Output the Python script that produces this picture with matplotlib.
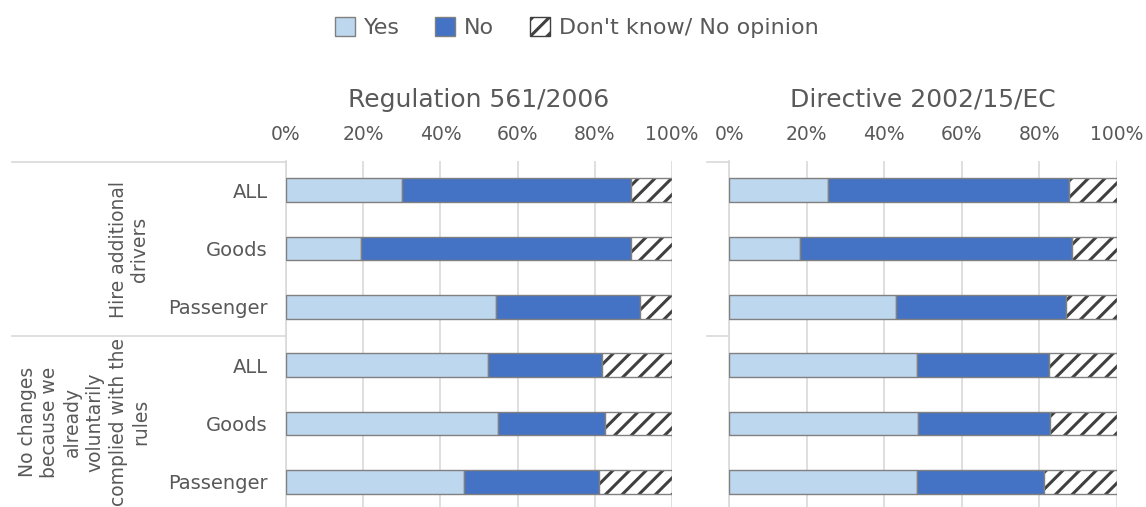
import matplotlib
matplotlib.use('Agg')
import matplotlib.pyplot as plt
from matplotlib.patches import Patch
from matplotlib.lines import Line2D

plt.rcParams['font.family'] = ['DejaVu Sans']
plt.rcParams['hatch.linewidth'] = 2.2

# -------------------- data --------------------
categories = ['ALL', 'Goods', 'Passenger', 'ALL', 'Goods', 'Passenger']
groups = ['Hire additional\ndrivers',
          'No changes\nbecause we\nalready\nvoluntarily\ncomplied with the\nrules']
panel_titles = ['Regulation 561/2006', 'Directive 2002/15/EC']
series_names = ['Yes', 'No', "Don't know/ No opinion"]

reg_yes = [30.0, 19.4, 54.4, 52.3, 54.8, 46.1]
reg_no = [59.4, 70.0, 37.3, 29.6, 27.9, 35.0]
reg_dk = [10.6, 10.6, 8.3, 18.1, 17.3, 18.9]

dir_yes = [25.6, 18.3, 43.0, 48.5, 48.8, 48.5]
dir_no = [62.2, 70.2, 43.9, 34.0, 34.0, 32.7]
dir_dk = [12.2, 11.5, 13.1, 17.5, 17.2, 18.8]

tick_vals = [0, 20, 40, 60, 80, 100]

# -------------------- style --------------------
c_yes = '#BDD7EE'
c_no = '#4472C4'
c_edge = '#808080'
c_hatch = '#404040'
c_text = '#595959'
c_grid = '#D9D9D9'

W, H = 1146, 507
fig = plt.figure(figsize=(W / 100, H / 100), dpi=100)


def px_axes(x0, x1, y0, y1):
    return fig.add_axes([x0 / W, 1 - y1 / H, (x1 - x0) / W, (y1 - y0) / H])


def draw_panel(ax, yes, no, dk, title, show_labels):
    y = list(range(len(categories)))
    h = 0.41
    left_no = yes
    left_dk = [a + b for a, b in zip(yes, no)]
    ax.barh(y, yes, height=h, color=c_yes, edgecolor=c_edge, linewidth=1, zorder=3)
    ax.barh(y, no, left=left_no, height=h, color=c_no, edgecolor=c_edge, linewidth=1, zorder=3)
    # hatch layer then outline layer
    ax.barh(y, dk, left=left_dk, height=h, color='white', edgecolor=c_hatch,
            hatch='//', linewidth=0, zorder=3)
    ax.barh(y, dk, left=left_dk, height=h, fill=False, edgecolor=c_edge, linewidth=1, zorder=4)

    ax.set_xlim(0, 100)
    ax.set_ylim(5.5, -0.5)
    ax.xaxis.tick_top()
    ax.set_xticks(tick_vals)
    ax.set_xticklabels([f'{v}%' for v in tick_vals])
    ax.tick_params(axis='x', length=0, pad=12, labelsize=13.5, labelcolor=c_text)
    ax.tick_params(axis='y', length=0, pad=13, labelsize=14, labelcolor=c_text)
    ax.set_yticks(y)
    if show_labels:
        ax.set_yticklabels(categories)
    else:
        ax.set_yticklabels([])
    ax.grid(axis='x', color=c_grid, linewidth=1.2, zorder=0)
    for s in ['top', 'right', 'bottom']:
        ax.spines[s].set_visible(False)
    ax.spines['left'].set_color(c_grid)
    ax.spines['left'].set_linewidth(1.2)
    ax.set_title(title, fontsize=18, color=c_text, pad=39)


ax1 = px_axes(286, 672, 161, 511)
draw_panel(ax1, reg_yes, reg_no, reg_dk, panel_titles[0], True)

ax2 = px_axes(729.3, 1116.7, 161, 511)
draw_panel(ax2, dir_yes, dir_no, dir_dk, panel_titles[1], False)

# group separators
for yy in [162, 336]:
    fig.add_artist(Line2D([12 / W, 286 / W], [1 - yy / H, 1 - yy / H],
                          color=c_grid, linewidth=1.2))
    fig.add_artist(Line2D([707 / W, 729 / W], [1 - yy / H, 1 - yy / H],
                          color=c_grid, linewidth=1.2))

# group labels
fig.text(129 / W, 1 - 249 / H, groups[0], rotation=90, ha='center', va='center',
         fontsize=13.5, color=c_text, linespacing=1.1)
fig.text(84 / W, 1 - 422 / H, groups[1], rotation=90, ha='center', va='center',
         fontsize=13.5, color=c_text, linespacing=1.25)

# legend
handles = [Patch(facecolor=c_yes, edgecolor=c_edge, label=series_names[0]),
           Patch(facecolor=c_no, edgecolor=c_edge, label=series_names[1]),
           Patch(facecolor='white', edgecolor=c_hatch, hatch='//', label=series_names[2])]
leg = fig.legend(handles=handles, loc='upper center', bbox_to_anchor=(0.503, 1.005),
                 ncol=3, frameon=False, fontsize=16, handlelength=0.9, handleheight=0.9,
                 handletextpad=0.4, columnspacing=1.6)
for t in leg.get_texts():
    t.set_color(c_text)

fig.savefig('out.png', dpi=100)
